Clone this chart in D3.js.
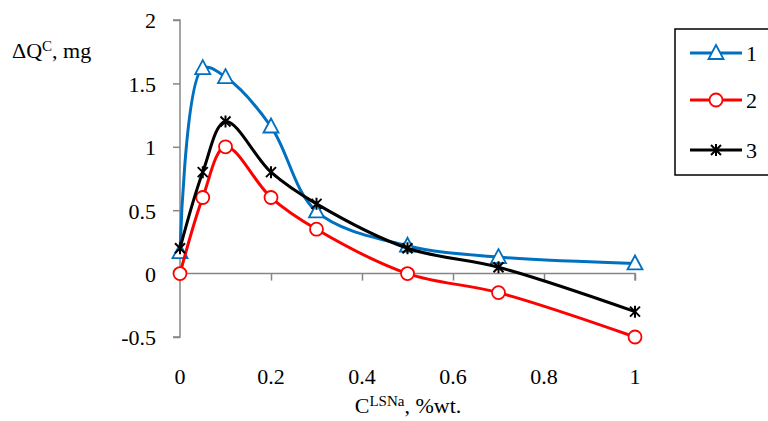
<!DOCTYPE html>
<html>
<head>
<meta charset="utf-8">
<script src="https://cdn.jsdelivr.net/npm/d3@7"></script>
<style>
  body { margin: 0; background: #fff; }
  svg { display: block; font-family: "Liberation Serif", "Times New Roman", serif; }
</style>
</head>
<body>
<svg id="chart" width="768" height="421"></svg>
<script>
const conc = [0, 0.05, 0.1, 0.2, 0.3, 0.5, 0.7, 1];
const series1 = [0.17, 1.62, 1.55, 1.16, 0.49, 0.22, 0.13, 0.08];
const series2 = [0, 0.6, 1.0, 0.6, 0.35, 0, -0.15, -0.5];
const series3 = [0.2, 0.8, 1.2, 0.8, 0.55, 0.2, 0.05, -0.3];
const seriesNames = ['1', '2', '3'];
const xTicks = [0, 0.2, 0.4, 0.6, 0.8, 1];
const yTicks = [-0.5, 0, 0.5, 1, 1.5, 2];

const svg = d3.select('#chart');
const x = d3.scaleLinear().domain([0, 1]).range([180, 635]);
const y = d3.scaleLinear().domain([-0.5, 2]).range([337, 20]);
const axisColor = '#868686';
const fontSize = 22;

// y axis
const yAxis = svg.append('g')
    .attr('transform', `translate(${x(0)},0)`)
    .call(d3.axisLeft(y).tickValues(yTicks).tickSize(7).tickPadding(17)
        .tickFormat(d => d3.format('')(d).replace('−', '-')));
yAxis.select('.domain').attr('stroke', axisColor).attr('stroke-width', 1.5)
    .attr('d', `M-7,${y(-0.5)}H0V${y(2)}H-7`);
yAxis.selectAll('.tick line').attr('stroke', axisColor).attr('stroke-width', 1.5);
yAxis.selectAll('.tick text').attr('font-size', fontSize).attr('fill', '#000')
    .attr('font-family', '"Liberation Serif", serif').attr('dy', '0.36em');

// x axis on zero line
const xAxis = svg.append('g')
    .attr('transform', `translate(0,${y(0)})`)
    .call(d3.axisBottom(x).tickValues(xTicks).tickSize(7).tickFormat(''));
xAxis.select('.domain').attr('stroke', axisColor).attr('stroke-width', 1.5)
    .attr('d', `M${x(0)},0H${x(1)}V7`);
xAxis.selectAll('.tick line').attr('stroke', axisColor).attr('stroke-width', 1.5);

// x tick labels at the bottom
svg.append('g').selectAll('text').data(xTicks).enter().append('text')
    .attr('x', d => x(d)).attr('y', 384)
    .attr('text-anchor', 'middle').attr('font-size', fontSize)
    .text(d => d3.format('')(d));

// axis titles
const yt = svg.append('text').attr('x', 12).attr('y', 58).attr('font-size', fontSize);
yt.append('tspan').text('ΔQ');
yt.append('tspan').attr('font-size', 15).attr('dy', -7).text('C');
yt.append('tspan').attr('dy', 7).text(', mg');

const xt = svg.append('text').attr('x', 408).attr('y', 413).attr('font-size', fontSize).attr('text-anchor', 'middle');
xt.append('tspan').text('C');
xt.append('tspan').attr('font-size', 15).attr('dy', -7).text('LSNa');
xt.append('tspan').attr('dy', 7).text(', %wt.');

const colors = ['#0070C0', '#FF0000', '#000000'];
const data = [series1, series2, series3];
const line = d3.line().x((d, i) => x(conc[i])).y(d => y(d)).curve(d3.curveCatmullRom.alpha(0.5));

function drawMarker(g, k) {
    if (k === 0) {
        g.append('path').attr('d', 'M0,-8L7.5,6L-7.5,6Z')
            .attr('fill', '#fff').attr('stroke', colors[0]).attr('stroke-width', 1.8);
    } else if (k === 1) {
        g.append('circle').attr('r', 6.5)
            .attr('fill', '#fff').attr('stroke', colors[1]).attr('stroke-width', 1.8);
    } else {
        g.append('path').attr('d', 'M-5,-5L5,5M-5,5L5,-5M0,-6V6')
            .attr('stroke', colors[2]).attr('stroke-width', 2).attr('fill', 'none');
    }
}

data.forEach((vals, k) => {
    svg.append('path').attr('d', line(vals))
        .attr('fill', 'none').attr('stroke', colors[k]).attr('stroke-width', 3);
    vals.forEach((v, i) => {
        const g = svg.append('g').attr('transform', `translate(${x(conc[i])},${y(v)})`);
        drawMarker(g, k);
    });
});

// legend
svg.append('rect').attr('x', 675).attr('y', 29).attr('width', 110).attr('height', 146)
    .attr('fill', '#fff').attr('stroke', '#000').attr('stroke-width', 1.5);
const legY = [53, 100, 150];
seriesNames.forEach((name, k) => {
    svg.append('line').attr('x1', 690).attr('x2', 742).attr('y1', legY[k]).attr('y2', legY[k])
        .attr('stroke', colors[k]).attr('stroke-width', 3);
    drawMarker(svg.append('g').attr('transform', `translate(716,${legY[k]})`), k);
    svg.append('text').attr('x', 746).attr('y', legY[k] + 8).attr('font-size', fontSize).text(name);
});
</script>
</body>
</html>
